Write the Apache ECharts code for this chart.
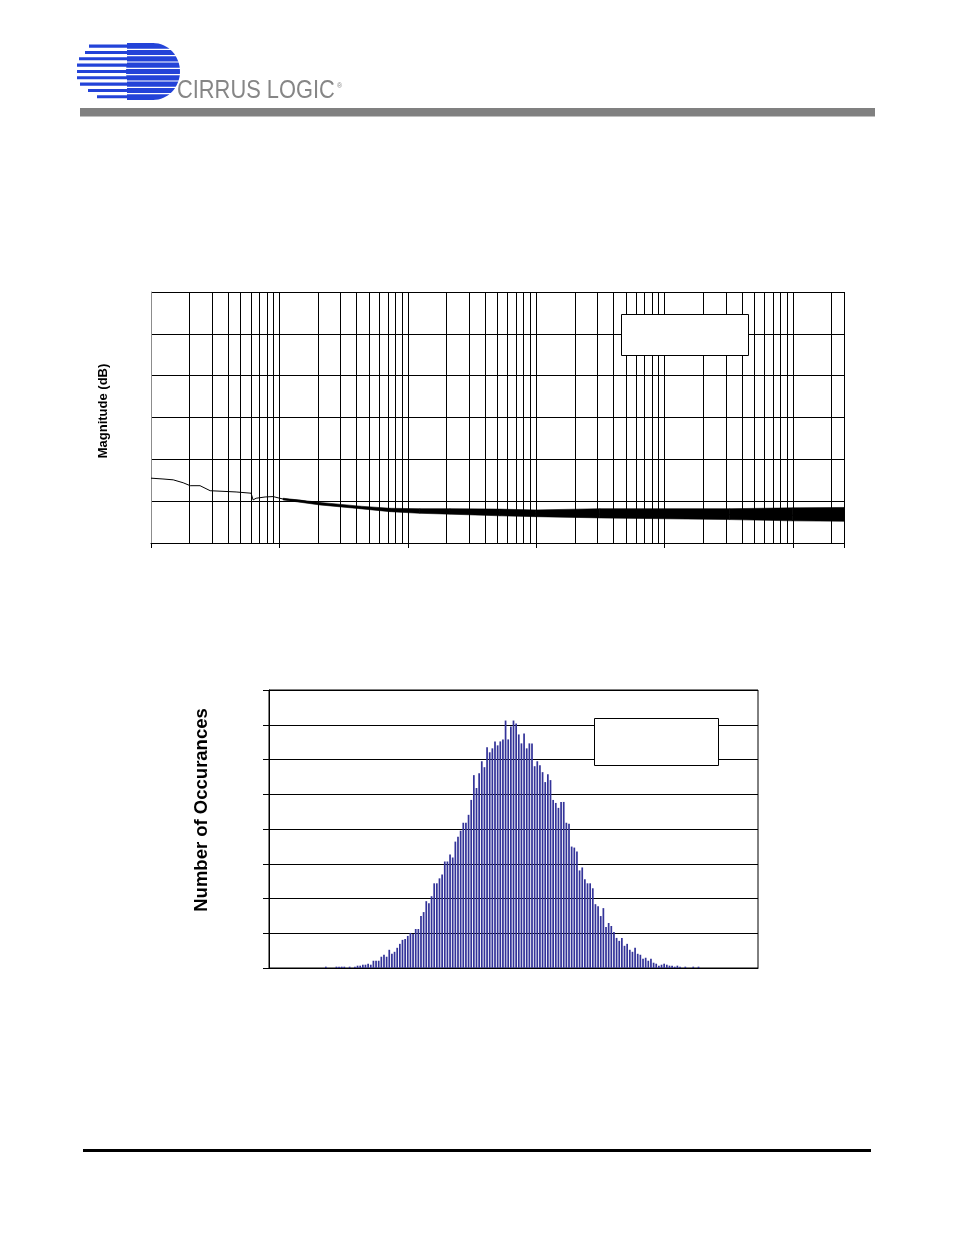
<!DOCTYPE html>
<html><head><meta charset="utf-8">
<script src="https://cdn.jsdelivr.net/npm/echarts@6/dist/echarts.min.js"></script>
<style>html,body{margin:0;padding:0;background:#fff}#c{width:954px;height:1235px}</style>
</head><body><div id="c"></div>
<script>
// ---- Top chart: noise spectrum (frequency, log axis; magnitude dB) ----
const noiseFreq = [0.1, 0.124, 0.149, 0.178, 0.202, 0.241, 0.289, 0.46, 0.602, 0.624, 0.659, 0.774, 0.893, 1.07, 1.45, 2.07, 2.97, 4.25, 7.27, 12.4, 21.3, 52.2, 99.5, 313, 1000, 3215, 9950, 25000];
const noiseMid  = [-134.5, -134.7, -134.9, -135.6, -136.3, -136.3, -137.5, -137.8, -138.1, -139.7, -139.3, -139.0, -138.9, -139.5, -139.8, -140.6, -141.1, -141.5, -142.1, -142.3, -142.5, -142.8, -143.0, -143.1, -143.2, -143.2, -143.4, -143.4];
const bandFreq   = [1.07, 2.07, 4.25, 7.27, 12.4, 21.3, 52.2, 99.5, 313, 1000, 3215, 9950, 25000];
const bandTop    = [-139.3, -140.3, -141.2, -141.7, -141.8, -141.8, -141.9, -142.1, -141.8, -141.8, -141.8, -141.6, -141.5];
const bandBottom = [-139.7, -140.9, -141.8, -142.5, -142.9, -143.1, -143.5, -143.7, -144.0, -144.2, -144.4, -144.7, -144.8];
const minorGridFreq = [0.2,0.3,0.4,0.5,0.6,0.7,0.8,0.9, 2,3,4,5,6,7,8,9, 20,30,40,50,60,70,80,90, 200,300,400,500,600,700,800,900, 2000,3000,4000,5000,6000,7000,8000,9000, 20000, 25000];

// ---- Bottom chart: histogram of output codes ----
const histBins = Array.from({length: 185}, (_, i) => String(i - 92));
const histCounts = [
0,0,0,0,0,0,0,0,0,0,0,0,0,0,0,0,0,0,0,0,0,
38,0,0,0,38,38,38,38,0,38,
0,38,67,67,95,95,124,95,209,209,
209,324,381,324,524,409,466,581,695,809,
838,923,1009,981,1123,1123,1495,1609,1923,1866,
2066,2437,2437,2580,2694,3065,3065,3265,3180,3637,
3780,3951,4180,4180,4408,4836,5550,5179,5607,5950,
5779,6350,6207,6321,6521,6407,6521,6578,7121,6578,
6950,7121,7035,6721,6464,6750,6321,6464,6464,5807,
5950,5836,5636,5350,5579,5407,4836,4750,4608,4779,
4779,4180,4151,3494,3465,3351,2808,2894,2551,2437,
2437,2294,1837,1780,1495,1723,1180,1295,1209,1038,
866,781,866,638,695,524,466,581,409,381,
267,295,209,267,152,124,67,95,124,95,
67,67,38,67,38,0,38,0,0,38,
0,38,
0,0,0,0,0,0,0,0,0,0,0,0,0,0,0,0,0,0,0,0,0,0
];

const FONT = 'Arial, "Liberation Sans", Helvetica, sans-serif';
const BLUE = '#2343d8';

// Logo pieces (decoration)
const logoRows = [89, 85, 79, 77, 77, 77, 80, 88, 97];
const deco = [];
logoRows.forEach((x0, k) => {
  const top = 43 + k * 6.33;
  deco.push({type:'rect', shape:{x:x0, y:top + 1.6, width:130 - x0, height:3.1}, style:{fill:BLUE}, z:10});
});
deco.push({type:'rect', shape:{x:127, y:43, width:27, height:57}, style:{fill:BLUE}, z:10});
deco.push({type:'ellipse', shape:{cx:153, cy:71.5, rx:27, ry:28.5}, style:{fill:BLUE}, z:10});
for (let k = 1; k < 9; k++) {
  deco.push({type:'rect', shape:{x:120, y:43 + k * 6.33 - 0.6, width:64, height:1.2}, style:{fill:'#fff'}, z:11});
}
deco.push({type:'text', x:177, y:91, scaleX:0.84, style:{text:'CIRRUS LOGIC', font:'26px ' + FONT, fill:'#868686', verticalAlign:'middle'}, z:12});
deco.push({type:'text', x:337, y:86, style:{text:'®', font:'7px ' + FONT, fill:'#868686', verticalAlign:'middle'}, z:12});
// axis titles
deco.push({type:'text', x:103.5, y:411, rotation:Math.PI / 2, style:{text:'Magnitude (dB)', font:'bold 13px ' + FONT, fill:'#000', align:'center', verticalAlign:'middle'}, z:12});
deco.push({type:'text', x:201.7, y:810, rotation:Math.PI / 2, style:{text:'Number of Occurances', font:'bold 18.5px ' + FONT, fill:'#000', align:'center', verticalAlign:'middle'}, z:12});

const chart = echarts.init(document.getElementById('c'), null, {renderer:'canvas'});
chart.setOption({
  animation: false,
  backgroundColor: '#fff',
  graphic: deco.concat([
    {type:'rect', shape:{x:80, y:108, width:795, height:8.5}, style:{fill:'#808080'}, z:10},
    {type:'rect', shape:{x:83, y:1149, width:788, height:3}, style:{fill:'#000'}, z:10},
    {type:'rect', shape:{x:621.5, y:314.5, width:127, height:41}, style:{fill:'#fff', stroke:'#000', lineWidth:1}, z:100},
    {type:'rect', shape:{x:594.5, y:718.5, width:124, height:47}, style:{fill:'#fff', stroke:'#000', lineWidth:1}, z:100}
  ]),
  grid: [
    {left:151, top:292, width:693, height:251, containLabel:false},
    {left:269, top:690, width:489, height:278, containLabel:false, show:true, borderColor:'#000', borderWidth:1, backgroundColor:'transparent'}
  ],
  xAxis: [
    {type:'log', gridIndex:0, logBase:10, min:0.1, max:25000,
     axisLine:{show:true, lineStyle:{color:'#000', width:1}},
     axisTick:{show:true, length:5, lineStyle:{color:'#000'}},
     axisLabel:{show:false},
     splitLine:{show:true, lineStyle:{color:'#000', width:1}}},
    {type:'category', gridIndex:1, data:histBins, boundaryGap:true,
     axisLine:{show:true, lineStyle:{color:'#000', width:1}},
     axisTick:{show:false}, axisLabel:{show:false}, splitLine:{show:false}}
  ],
  yAxis: [
    {type:'value', gridIndex:0, min:-150, max:-90, interval:10,
     axisLine:{show:true, lineStyle:{color:'#8c8c8c', width:1}},
     axisTick:{show:false}, axisLabel:{show:false},
     splitLine:{show:true, lineStyle:{color:'#000', width:1}}},
    {type:'value', gridIndex:1, min:0, max:8000, interval:1000,
     axisLine:{show:true, lineStyle:{color:'#000', width:1}},
     axisTick:{show:true, length:6, inside:false, lineStyle:{color:'#000'}},
     axisLabel:{show:false},
     splitLine:{show:true, lineStyle:{color:'#000', width:1}}}
  ],
  series: [
    {type:'line', xAxisIndex:0, yAxisIndex:0, silent:true, symbol:'none', z:1,
     data: noiseFreq.map((f, i) => [f, noiseMid[i]]),
     lineStyle:{opacity:0},
     markLine:{silent:true, z:1, symbol:['none','none'], label:{show:false},
       lineStyle:{color:'#000', width:1, type:'solid'},
       emphasis:{disabled:true},
       data: minorGridFreq.map(v => ({xAxis:v}))}},
    {type:'custom', xAxisIndex:0, yAxisIndex:0, z:3, silent:true,
     data: bandFreq.map((f, i) => [f, bandTop[i], bandBottom[i]]),
     renderItem: function (params, api) {
       const i = params.dataIndex;
       if (i >= bandFreq.length - 1) return null;
       const a = api.coord([bandFreq[i], bandTop[i]]);
       const b = api.coord([bandFreq[i + 1], bandTop[i + 1]]);
       const c = api.coord([bandFreq[i + 1], bandBottom[i + 1]]);
       const d = api.coord([bandFreq[i], bandBottom[i]]);
       return {type:'polygon', shape:{points:[a, b, c, d]}, style:{fill:'#000', stroke:'#000', lineWidth:0.6}};
     }},
    {type:'line', xAxisIndex:0, yAxisIndex:0, silent:true, symbol:'none', z:4,
     data: noiseFreq.map((f, i) => [f, noiseMid[i]]),
     lineStyle:{color:'#000', width:1}},
    {type:'bar', xAxisIndex:1, yAxisIndex:1, silent:true, data: histCounts,
     barCategoryGap:'35%', itemStyle:{color:'#333399'}}
  ]
});
</script></body></html>
